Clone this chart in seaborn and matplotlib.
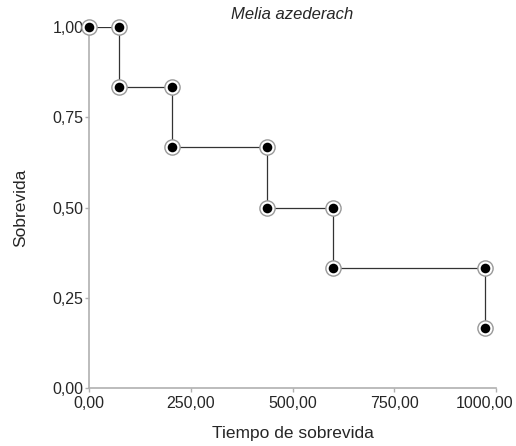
import matplotlib
matplotlib.use("Agg")
import matplotlib.pyplot as plt
import matplotlib.transforms as mtransforms
import seaborn as sns
import pandas as pd

# survival curve data
tiempos = [0, 73, 204, 437, 600, 973]
sobrevida = [1.0, 0.8333, 0.6667, 0.5, 0.3333, 0.1667]
xticks = [0, 250, 500, 750, 1000]
xtick_labels = ["0,00", "250,00", "500,00", "750,00", "1000,00"]
yticks = [0, 0.25, 0.5, 0.75, 1.0]
ytick_labels = ["0,00", "0,25", "0,50", "0,75", "1,00"]

sns.set_style("white")
plt.rcParams["font.family"] = ["Liberation Sans", "DejaVu Sans"]

df = pd.DataFrame({"t": tiempos, "s": sobrevida})

# corner points: before and after each drop
pts_x = [tiempos[0]]
pts_y = [sobrevida[0]]
for i in range(1, len(tiempos)):
    pts_x += [tiempos[i], tiempos[i]]
    pts_y += [sobrevida[i - 1], sobrevida[i]]
pts = pd.DataFrame({"t": pts_x, "s": pts_y})

fig = plt.figure(figsize=(5.16, 4.46), dpi=100)
ax = fig.add_axes([0.173, 0.130, 0.788, 0.809])

sns.lineplot(data=df, x="t", y="s", drawstyle="steps-post", color="#333333",
             linewidth=0.9, ax=ax, zorder=2)
sns.scatterplot(data=pts, x="t", y="s", s=120, facecolor="white",
                edgecolor="#999999", linewidth=1.0, ax=ax, zorder=3, clip_on=False)
sns.scatterplot(data=pts, x="t", y="s", s=48, color="black",
                edgecolor="black", linewidth=0, ax=ax, zorder=4, clip_on=False)

ax.set_xlim(0, 1000)
ax.set_ylim(0, 1)
ax.set_xticks(xticks)
ax.set_xticklabels(xtick_labels)
ax.set_yticks(yticks)
ax.set_yticklabels(ytick_labels)
ax.tick_params(axis="both", length=3, width=1, color="#b0b0b0", labelsize=11.5,
               direction="out", bottom=True, left=True)
ax.tick_params(axis="x", pad=3)
ax.tick_params(axis="y", pad=1)
for side in ["top", "right"]:
    ax.spines[side].set_visible(False)
for side in ["left", "bottom"]:
    ax.spines[side].set_color("#b0b0b0")
    ax.spines[side].set_linewidth(1.2)

# last x tick label shifted left so it stays inside the figure
last = ax.get_xticklabels()[-1]
last.set_transform(last.get_transform() +
                   mtransforms.ScaledTranslation(-0.11, 0, fig.dpi_scale_trans))

ax.set_xlabel("Tiempo de sobrevida", fontsize=12.5)
ax.xaxis.set_label_coords(0.5, -0.105)
ax.set_ylabel("Sobrevida", fontsize=12.5)
ax.yaxis.set_label_coords(-0.150, 0.5)
ax.set_title("Melia azederach", fontsize=12, style="italic", x=0.5, pad=6)

fig.savefig("out.png", dpi=100)
